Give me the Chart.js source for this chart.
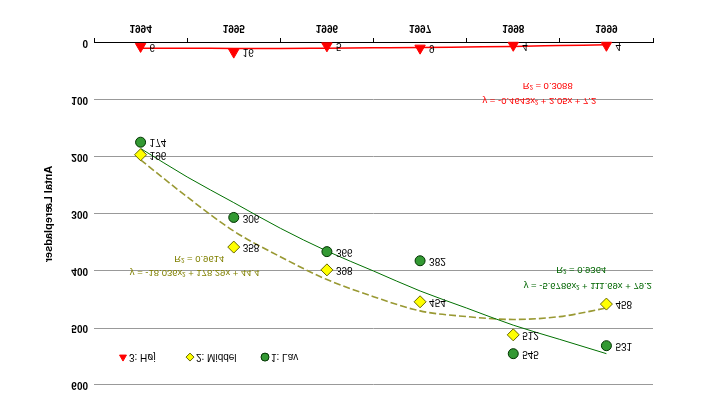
<!DOCTYPE html>
<html>
<head>
<meta charset="utf-8">
<script src="https://cdn.jsdelivr.net/npm/chart.js@4.4.1/dist/chart.umd.min.js"></script>
<style>
  html, body { margin: 0; padding: 0; background: #fff; }
  /* the reference picture is mirrored top to bottom */
  #chart { display: block; transform: scaleY(-1); }
</style>
</head>
<body>
<canvas id="chart" width="711" height="403"></canvas>
<script>
const years = ["1994", "1995", "1996", "1997", "1998", "1999"];
const lavValues = [174, 306, 366, 382, 545, 531];
const middelValues = [196, 358, 398, 454, 512, 458];
const hojValues = [6, 16, 5, 9, 4, 4];

// trend curves at every half year
const trendX = [1, 1.5, 2, 2.5, 3, 3.5, 4, 4.5, 5, 5.5, 6];
const lavTrend = [185, 235, 280, 325, 365, 400, 435, 465, 495, 520, 545];
const middelTrend = [205, 270, 330, 375, 415, 445, 470, 480, 485, 480, 465];
const hojTrend = [9, 9, 9.5, 9.5, 9, 8.5, 8, 7, 6, 4.5, 3];

const lavEquation = ["y = -5.6786x² + 111.69x + 79.2", "R² = 0.9364"];
const middelEquation = ["y = -18.036x² + 178.29x + 44.4", "R² = 0.9614"];
const hojEquation = ["y = -0.4643x² + 2.05x + 7.2", "R² = 0.3088"];

const seriesNames = ["1: Lav", "2: Middel", "3: Høj"];
const yTicks = [0, 100, 200, 300, 400, 500, 600];

const FONT = '"Liberation Sans", Arial, sans-serif';

function points(values) {
  return values.map((v, i) => ({ x: i + 1, y: v }));
}
function trend(values) {
  return values.map((v, i) => ({ x: trendX[i], y: v }));
}

// equation boxes, anchored in data units
const equationLabels = [
  { lines: hojEquation, color: "#ff0000", x: 5.28, y: 101, x2: 5.37, y2: 75 },
  { lines: middelEquation, color: "#808000", x: 1.58, y: 402, x2: 1.63, y2: 378 },
  { lines: lavEquation, color: "#006600", x: 5.8, y: 425, x2: 5.73, y2: 397 }
];

const extras = {
  id: "extras",
  afterDatasetsDraw(chart) {
    const ctx = chart.ctx;
    const xs = chart.scales.x, ys = chart.scales.y;
    ctx.save();
    ctx.textBaseline = "middle";

    // value labels next to the markers
    ctx.font = "10px " + FONT;
    ctx.fillStyle = "#000";
    ctx.textAlign = "left";
    [0, 1, 2].forEach(i => {
      const ds = chart.data.datasets[i];
      chart.getDatasetMeta(i).data.forEach((pt, j) => {
        ctx.fillText(String(ds.data[j].y), pt.x + 9, pt.y);
      });
    });

    // trendline equations
    ctx.textAlign = "center";
    ctx.font = "9.5px " + FONT;
    equationLabels.forEach(eq => {
      ctx.fillStyle = eq.color;
      ctx.fillText(eq.lines[0], xs.getPixelForValue(eq.x), ys.getPixelForValue(eq.y));
      ctx.fillText(eq.lines[1], xs.getPixelForValue(eq.x2), ys.getPixelForValue(eq.y2));
    });

    // legend inside the plot
    ctx.font = "10px " + FONT;
    const ly = ys.getPixelForValue(551);
    const items = [
      { ds: 2, x: chart.chartArea.left + 29 },
      { ds: 1, x: chart.chartArea.left + 96 },
      { ds: 0, x: chart.chartArea.left + 171 }
    ];
    ctx.textAlign = "left";
    items.forEach(it => {
      const ds = chart.data.datasets[it.ds];
      ctx.fillStyle = ds.pointBackgroundColor;
      ctx.strokeStyle = ds.pointBorderColor;
      ctx.lineWidth = 1;
      Chart.helpers.drawPoint(ctx, { pointStyle: ds.pointStyle, radius: 4, rotation: 0, borderWidth: 1 }, it.x, ly);
      ctx.fillStyle = "#000";
      ctx.fillText(ds.label, it.x + 6, ly);
    });
    ctx.restore();
  }
};

new Chart(document.getElementById("chart"), {
  type: "scatter",
  data: {
    datasets: [
      {
        label: seriesNames[0], data: points(lavValues), order: 0, clip: false,
        pointStyle: "circle", pointRadius: 5, pointHoverRadius: 5,
        pointBackgroundColor: "#339933", pointBorderColor: "#003300", pointBorderWidth: 1
      },
      {
        label: seriesNames[1], data: points(middelValues), order: 0, clip: false,
        pointStyle: "rectRot", pointRadius: 6, pointHoverRadius: 6,
        pointBackgroundColor: "#ffff00", pointBorderColor: "#666600", pointBorderWidth: 1
      },
      {
        label: seriesNames[2], data: points(hojValues), order: 0, clip: false,
        pointStyle: "triangle", pointRadius: 6, pointHoverRadius: 6,
        pointBackgroundColor: "#ff0000", pointBorderColor: "#ff0000", pointBorderWidth: 1
      },
      {
        data: trend(lavTrend), showLine: true, pointRadius: 0, order: 1, clip: false,
        borderColor: "#007000", borderWidth: 1, cubicInterpolationMode: "monotone"
      },
      {
        data: trend(middelTrend), showLine: true, pointRadius: 0, order: 1, clip: false,
        borderColor: "#999933", borderWidth: 1.6, borderDash: [7, 3], cubicInterpolationMode: "monotone"
      },
      {
        data: trend(hojTrend), showLine: true, pointRadius: 0, order: 1, clip: false,
        borderColor: "#ff0000", borderWidth: 1.5, cubicInterpolationMode: "monotone"
      }
    ]
  },
  options: {
    responsive: false,
    animation: false,
    events: [],
    layout: { padding: { top: 18, right: 58, left: 0, bottom: 0 } },
    plugins: {
      legend: { display: false },
      tooltip: { enabled: false }
    },
    scales: {
      x: {
        type: "linear",
        min: 0.5,
        max: years.length + 0.5,
        afterBuildTicks: s => {
          s.ticks = years.flatMap((_, i) => [i + 0.5, i + 1]).concat(years.length + 0.5).map(v => ({ value: v }));
        },
        afterFit: s => { s.height = 43; },
        ticks: {
          autoSkip: false, maxRotation: 0, padding: 4, color: "#000",
          font: { family: FONT, size: 10, weight: "bold" },
          callback: v => Number.isInteger(v) ? years[v - 1] : ""
        },
        grid: {
          drawOnChartArea: false, tickLength: 5, tickWidth: 1,
          tickColor: c => Number.isInteger(c.tick.value) ? "rgba(0,0,0,0)" : "#000"
        },
        border: { color: "#000", width: 1 }
      },
      y: {
        min: 0,
        max: 600,
        afterBuildTicks: s => { s.ticks = yTicks.map(v => ({ value: v })); },
        afterFit: s => { s.width = 94; },
        ticks: {
          padding: 6, color: "#000",
          font: { family: FONT, size: 10, weight: "bold" }
        },
        grid: {
          drawTicks: false,
          color: c => c.tick.value === 0 ? "rgba(0,0,0,0)" : "#999999",
          lineWidth: 1
        },
        border: { display: false },
        title: {
          display: true, text: "Antal Lærepladser", color: "#000",
          font: { family: FONT, size: 11, weight: "bold" },
          padding: { top: 42, bottom: 0 }
        }
      }
    }
  },
  plugins: [extras]
});
</script>
</body>
</html>
